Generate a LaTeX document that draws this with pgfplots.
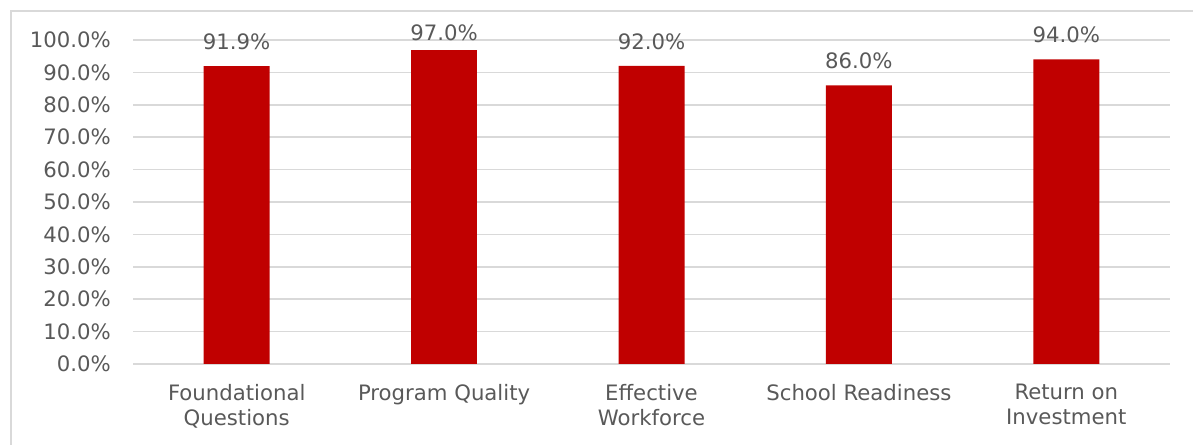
\documentclass[border=0pt]{standalone}
\usepackage{pgfplots}
\pgfplotsset{compat=1.18}
\usepackage{fontspec}
\setmainfont{DejaVu Sans}
\definecolor{barred}{HTML}{C00000}
\definecolor{gridc}{HTML}{D9D9D9}
\definecolor{txt}{HTML}{595959}
\begin{document}
\begin{tikzpicture}
\useasboundingbox (0,0) rectangle (1193bp,445bp);
\draw[gridc, line width=1.5bp] (11bp,0bp) -- (11bp,434bp) -- (1193bp,434bp);
\begin{axis}[
  at={(133bp,81bp)}, anchor=south west,
  scale only axis, width=1037bp, height=324bp,
  xmin=-0.5, xmax=4.5, ymin=0, ymax=100,
  axis line style={draw=none},
  xtick={0,1,2,3,4},
  xticklabels={{Foundational\\Questions},{Program Quality},{Effective\\Workforce},{School Readiness},{Return on\\Investment}},
  xtick style={draw=none}, ytick style={draw=none},
  ytick={0,10,...,100},
  yticklabels={0.0\%,10.0\%,20.0\%,30.0\%,40.0\%,50.0\%,60.0\%,70.0\%,80.0\%,90.0\%,100.0\%},
  ymajorgrids, grid style={gridc, line width=1.5bp},
  tick label style={font=\fontsize{21.3}{25}\selectfont, text=txt},
  yticklabel style={inner sep=0pt, anchor=east, xshift=-22bp},
  xticklabel style={inner sep=0pt, anchor=north, align=center, yshift=-20bp},
  /pgf/number format/assume math mode=true,
  nodes near coords={\pgfmathprintnumber[fixed,fixed zerofill,precision=1]{\pgfplotspointmeta}\%},
  every node near coord/.append style={font=\fontsize{21.3}{25}\selectfont, text=txt, inner sep=0pt, anchor=south},
  clip=false,
]
\addplot[ybar, bar width=66bp, fill=barred, draw=none, every node near coord/.append style={yshift=16bp}] coordinates {
  (0,91.9) (2,92.0) (3,86.0) (4,94.0)
};
\addplot[ybar, bar width=66bp, fill=barred, draw=none, every node near coord/.append style={yshift=9bp}] coordinates {
  (1,97.0)
};
\end{axis}
\end{tikzpicture}
\end{document}
